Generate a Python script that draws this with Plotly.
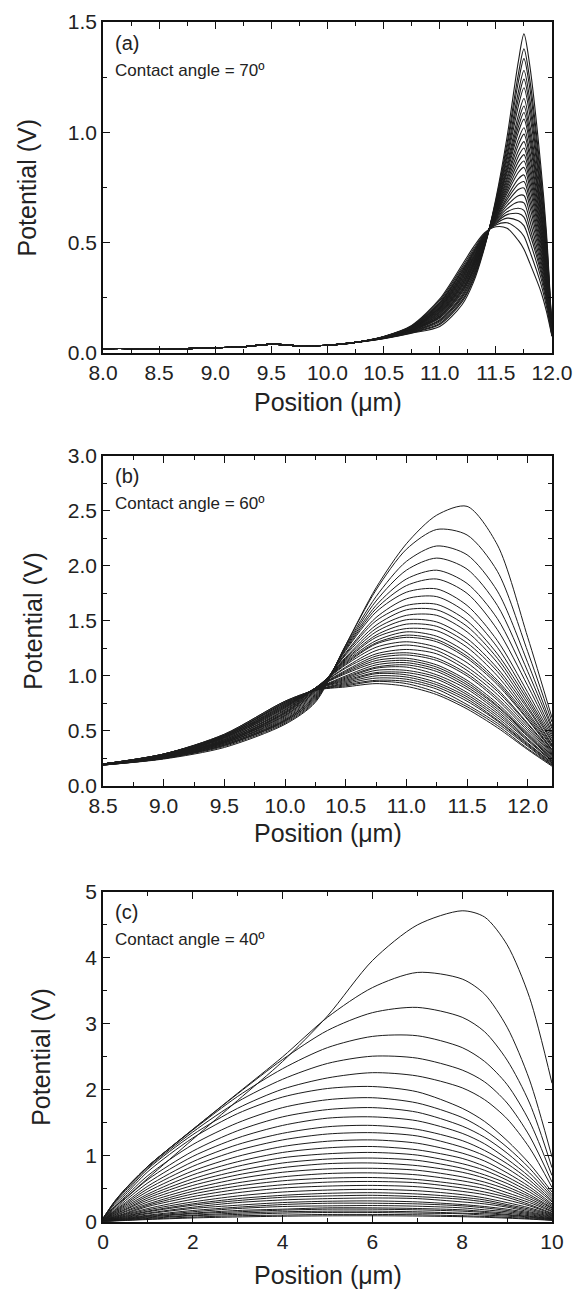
import plotly.graph_objects as go

# ---------------------------------------------------------------------------
# (a) contact angle 70 deg : potential profiles, one row per time step
# ---------------------------------------------------------------------------
pos_a_flat = [8.0, 8.25, 8.5, 8.75, 9.0, 9.25, 9.5, 9.75, 10.0, 10.25]
pot_a_flat = [0.02, 0.02, 0.017, 0.02, 0.024, 0.028, 0.04, 0.032, 0.035, 0.048]
pos_a = [10.5, 10.75, 11.0, 11.2, 11.3, 11.4, 11.5, 11.6, 11.7, 11.75, 11.8, 11.9, 11.95, 12.0]
pot_a = [
    [0.065, 0.09, 0.12, 0.22, 0.32, 0.48, 0.70, 0.98, 1.32, 1.446, 1.31, 0.85, 0.55, 0.10],
    [0.066, 0.092, 0.129, 0.233, 0.331, 0.485, 0.691, 0.951, 1.263, 1.378, 1.247, 0.81, 0.525, 0.098],
    [0.066, 0.094, 0.134, 0.241, 0.338, 0.487, 0.685, 0.932, 1.227, 1.334, 1.207, 0.784, 0.509, 0.097],
    [0.067, 0.096, 0.141, 0.251, 0.347, 0.491, 0.678, 0.909, 1.182, 1.28, 1.157, 0.753, 0.489, 0.096],
    [0.067, 0.097, 0.146, 0.258, 0.354, 0.494, 0.673, 0.893, 1.15, 1.241, 1.121, 0.73, 0.474, 0.095],
    [0.068, 0.099, 0.151, 0.265, 0.36, 0.496, 0.668, 0.876, 1.118, 1.202, 1.085, 0.708, 0.46, 0.094],
    [0.068, 0.101, 0.158, 0.274, 0.368, 0.50, 0.662, 0.856, 1.077, 1.153, 1.04, 0.679, 0.442, 0.093],
    [0.068, 0.102, 0.162, 0.28, 0.374, 0.502, 0.657, 0.841, 1.049, 1.119, 1.009, 0.659, 0.429, 0.092],
    [0.069, 0.103, 0.166, 0.286, 0.378, 0.504, 0.653, 0.829, 1.024, 1.09, 0.982, 0.642, 0.419, 0.091],
    [0.069, 0.104, 0.169, 0.291, 0.383, 0.506, 0.649, 0.816, 1.0, 1.06, 0.955, 0.625, 0.408, 0.09],
    [0.069, 0.105, 0.174, 0.298, 0.39, 0.508, 0.644, 0.799, 0.968, 1.021, 0.919, 0.602, 0.393, 0.089],
    [0.07, 0.106, 0.178, 0.304, 0.394, 0.51, 0.64, 0.787, 0.943, 0.992, 0.892, 0.585, 0.383, 0.088],
    [0.07, 0.108, 0.183, 0.31, 0.40, 0.513, 0.636, 0.773, 0.915, 0.958, 0.86, 0.565, 0.37, 0.088],
    [0.07, 0.109, 0.186, 0.315, 0.405, 0.514, 0.632, 0.76, 0.891, 0.929, 0.833, 0.548, 0.359, 0.087],
    [0.071, 0.11, 0.19, 0.321, 0.41, 0.516, 0.628, 0.748, 0.866, 0.899, 0.806, 0.531, 0.348, 0.086],
    [0.071, 0.111, 0.194, 0.326, 0.414, 0.518, 0.624, 0.735, 0.842, 0.87, 0.779, 0.514, 0.338, 0.085],
    [0.071, 0.112, 0.198, 0.332, 0.419, 0.52, 0.621, 0.723, 0.818, 0.841, 0.752, 0.497, 0.327, 0.085],
    [0.072, 0.113, 0.202, 0.338, 0.425, 0.523, 0.616, 0.708, 0.789, 0.807, 0.721, 0.477, 0.314, 0.084],
    [0.072, 0.114, 0.206, 0.343, 0.43, 0.525, 0.612, 0.696, 0.765, 0.777, 0.694, 0.46, 0.303, 0.083],
    [0.072, 0.115, 0.209, 0.349, 0.434, 0.526, 0.608, 0.683, 0.741, 0.748, 0.667, 0.442, 0.293, 0.082],
    [0.073, 0.116, 0.214, 0.355, 0.44, 0.529, 0.604, 0.669, 0.713, 0.714, 0.635, 0.423, 0.28, 0.081],
    [0.073, 0.118, 0.218, 0.361, 0.446, 0.531, 0.60, 0.654, 0.684, 0.68, 0.604, 0.403, 0.267, 0.08],
    [0.073, 0.119, 0.223, 0.368, 0.451, 0.533, 0.595, 0.64, 0.656, 0.646, 0.572, 0.383, 0.255, 0.08],
    [0.074, 0.12, 0.226, 0.373, 0.456, 0.535, 0.591, 0.627, 0.632, 0.616, 0.545, 0.366, 0.244, 0.079],
    [0.074, 0.121, 0.231, 0.38, 0.462, 0.538, 0.586, 0.611, 0.599, 0.577, 0.509, 0.343, 0.23, 0.078],
    [0.074, 0.123, 0.238, 0.389, 0.47, 0.541, 0.58, 0.59, 0.559, 0.529, 0.464, 0.314, 0.212, 0.077],
    [0.075, 0.125, 0.245, 0.40, 0.48, 0.545, 0.572, 0.565, 0.51, 0.47, 0.41, 0.28, 0.19, 0.075],
]

# ---------------------------------------------------------------------------
# (b) contact angle 60 deg
# ---------------------------------------------------------------------------
pos_b = [8.5, 9.0, 9.5, 10.0, 10.25, 10.5, 10.75, 11.0, 11.25, 11.5, 11.75, 12.0, 12.2]
pot_b = [
    [0.19, 0.245, 0.35, 0.56, 0.76, 1.28, 1.80, 2.20, 2.46, 2.54, 2.19, 1.35, 0.62],
    [0.19, 0.25, 0.36, 0.57, 0.77, 1.28, 1.78, 2.15, 2.33, 2.28, 1.95, 1.22, 0.58],
    [0.19, 0.25, 0.37, 0.58, 0.78, 1.27, 1.72, 2.04, 2.18, 2.10, 1.77, 1.12, 0.54],
    [0.19, 0.25, 0.37, 0.59, 0.79, 1.26, 1.68, 1.96, 2.07, 1.97, 1.64, 1.04, 0.52],
    [0.19, 0.26, 0.37, 0.59, 0.80, 1.25, 1.64, 1.88, 1.96, 1.84, 1.52, 0.97, 0.49],
    [0.19, 0.26, 0.38, 0.60, 0.81, 1.24, 1.61, 1.82, 1.88, 1.75, 1.42, 0.91, 0.47],
    [0.195, 0.26, 0.38, 0.60, 0.82, 1.23, 1.58, 1.76, 1.79, 1.64, 1.32, 0.85, 0.45],
    [0.20, 0.26, 0.39, 0.61, 0.83, 1.21, 1.53, 1.70, 1.72, 1.57, 1.26, 0.81, 0.43],
    [0.20, 0.26, 0.39, 0.62, 0.84, 1.20, 1.50, 1.64, 1.65, 1.50, 1.20, 0.78, 0.41],
    [0.20, 0.26, 0.39, 0.63, 0.85, 1.19, 1.46, 1.60, 1.60, 1.45, 1.16, 0.75, 0.40],
    [0.20, 0.27, 0.40, 0.64, 0.86, 1.17, 1.43, 1.55, 1.55, 1.40, 1.12, 0.72, 0.38],
    [0.20, 0.27, 0.40, 0.64, 0.86, 1.16, 1.40, 1.51, 1.49, 1.34, 1.07, 0.70, 0.37],
    [0.20, 0.27, 0.40, 0.65, 0.87, 1.15, 1.37, 1.47, 1.45, 1.30, 1.04, 0.67, 0.36],
    [0.20, 0.27, 0.40, 0.66, 0.87, 1.14, 1.35, 1.43, 1.41, 1.26, 1.00, 0.65, 0.35],
    [0.20, 0.27, 0.41, 0.66, 0.88, 1.13, 1.32, 1.40, 1.36, 1.21, 0.96, 0.63, 0.33],
    [0.20, 0.27, 0.41, 0.67, 0.88, 1.12, 1.30, 1.37, 1.33, 1.18, 0.94, 0.61, 0.33],
    [0.20, 0.27, 0.41, 0.67, 0.89, 1.11, 1.29, 1.35, 1.31, 1.16, 0.92, 0.60, 0.32],
    [0.20, 0.27, 0.42, 0.68, 0.89, 1.10, 1.26, 1.31, 1.26, 1.12, 0.88, 0.57, 0.31],
    [0.20, 0.27, 0.42, 0.69, 0.89, 1.08, 1.23, 1.28, 1.23, 1.08, 0.86, 0.56, 0.30],
    [0.20, 0.28, 0.42, 0.69, 0.89, 1.07, 1.20, 1.24, 1.20, 1.05, 0.83, 0.54, 0.29],
    [0.20, 0.28, 0.43, 0.70, 0.89, 1.05, 1.18, 1.21, 1.16, 1.02, 0.80, 0.52, 0.28],
    [0.20, 0.28, 0.43, 0.71, 0.89, 1.04, 1.16, 1.19, 1.14, 1.00, 0.78, 0.50, 0.27],
    [0.20, 0.28, 0.44, 0.71, 0.89, 1.03, 1.14, 1.16, 1.10, 0.96, 0.75, 0.48, 0.26],
    [0.20, 0.28, 0.44, 0.72, 0.89, 1.02, 1.12, 1.14, 1.08, 0.94, 0.73, 0.47, 0.25],
    [0.20, 0.28, 0.44, 0.72, 0.88, 1.00, 1.10, 1.12, 1.06, 0.92, 0.72, 0.46, 0.25],
    [0.20, 0.28, 0.44, 0.73, 0.88, 0.99, 1.08, 1.10, 1.04, 0.90, 0.70, 0.45, 0.24],
    [0.20, 0.28, 0.45, 0.73, 0.88, 0.98, 1.07, 1.08, 1.01, 0.88, 0.68, 0.43, 0.23],
    [0.20, 0.28, 0.45, 0.74, 0.88, 0.97, 1.05, 1.05, 0.99, 0.85, 0.66, 0.42, 0.23],
    [0.20, 0.28, 0.45, 0.74, 0.88, 0.96, 1.03, 1.03, 0.97, 0.83, 0.64, 0.41, 0.22],
    [0.20, 0.29, 0.46, 0.75, 0.88, 0.95, 1.02, 1.01, 0.94, 0.81, 0.62, 0.39, 0.21],
    [0.20, 0.29, 0.46, 0.75, 0.87, 0.94, 1.00, 0.99, 0.92, 0.79, 0.60, 0.38, 0.21],
    [0.20, 0.29, 0.46, 0.76, 0.87, 0.93, 0.98, 0.97, 0.90, 0.77, 0.59, 0.37, 0.20],
    [0.20, 0.29, 0.46, 0.76, 0.87, 0.92, 0.96, 0.95, 0.88, 0.74, 0.57, 0.36, 0.19],
    [0.20, 0.29, 0.47, 0.77, 0.87, 0.91, 0.95, 0.93, 0.85, 0.72, 0.55, 0.34, 0.19],
    [0.20, 0.29, 0.47, 0.77, 0.87, 0.90, 0.93, 0.905, 0.83, 0.70, 0.53, 0.33, 0.18],
]

# ---------------------------------------------------------------------------
# (c) contact angle 40 deg
# ---------------------------------------------------------------------------
pos_c = [0, 0.25, 0.5, 1, 2, 3, 4, 5, 6, 7, 8, 8.5, 9, 9.5, 10]
pot_c = [
    [0.05, 0.22, 0.36, 0.66, 1.25, 1.84, 2.43, 3.12, 3.96, 4.50, 4.715, 4.62, 4.20, 3.40, 2.10],
    [0.05, 0.30, 0.50, 0.84, 1.40, 1.95, 2.50, 3.10, 3.55, 3.78, 3.68, 3.45, 2.95, 2.15, 0.98],
    [0.05, 0.30, 0.50, 0.84, 1.40, 1.94, 2.46, 2.90, 3.17, 3.25, 3.10, 2.88, 2.45, 1.80, 0.82],
    [0.05, 0.29, 0.49, 0.84, 1.39, 1.90, 2.32, 2.64, 2.81, 2.82, 2.64, 2.43, 2.08, 1.52, 0.70],
    [0.05, 0.28, 0.47, 0.82, 1.36, 1.82, 2.16, 2.40, 2.51, 2.48, 2.30, 2.12, 1.80, 1.30, 0.60],
    [0.04, 0.26, 0.44, 0.80, 1.32, 1.72, 2.01, 2.18, 2.26, 2.21, 2.03, 1.85, 1.56, 1.12, 0.52],
    [0.04, 0.23, 0.41, 0.76, 1.27, 1.64, 1.89, 2.02, 2.05, 1.97, 1.72, 1.52, 1.23, 0.88, 0.45],
    [0.04, 0.21, 0.38, 0.70, 1.17, 1.50, 1.73, 1.85, 1.88, 1.80, 1.58, 1.39, 1.13, 0.81, 0.41],
    [0.035, 0.19, 0.35, 0.64, 1.07, 1.38, 1.59, 1.70, 1.73, 1.66, 1.45, 1.28, 1.04, 0.74, 0.38],
    [0.03, 0.17, 0.32, 0.59, 0.99, 1.27, 1.46, 1.57, 1.59, 1.53, 1.34, 1.18, 0.95, 0.68, 0.35],
    [0.03, 0.16, 0.29, 0.54, 0.91, 1.17, 1.34, 1.44, 1.46, 1.40, 1.23, 1.08, 0.88, 0.63, 0.32],
    [0.03, 0.15, 0.27, 0.50, 0.84, 1.08, 1.24, 1.33, 1.35, 1.30, 1.13, 1.00, 0.81, 0.58, 0.30],
    [0.025, 0.14, 0.25, 0.46, 0.77, 0.99, 1.14, 1.22, 1.24, 1.19, 1.04, 0.92, 0.74, 0.53, 0.27],
    [0.02, 0.13, 0.23, 0.42, 0.71, 0.91, 1.05, 1.12, 1.14, 1.09, 0.96, 0.84, 0.68, 0.49, 0.25],
    [0.02, 0.12, 0.21, 0.39, 0.65, 0.84, 0.97, 1.03, 1.05, 1.01, 0.88, 0.78, 0.63, 0.45, 0.23],
    [0.02, 0.11, 0.19, 0.36, 0.60, 0.77, 0.89, 0.95, 0.965, 0.93, 0.81, 0.71, 0.58, 0.41, 0.21],
    [0.02, 0.10, 0.18, 0.33, 0.55, 0.71, 0.82, 0.88, 0.89, 0.85, 0.75, 0.66, 0.53, 0.38, 0.20],
    [0.016, 0.09, 0.16, 0.30, 0.50, 0.65, 0.75, 0.80, 0.81, 0.78, 0.68, 0.60, 0.49, 0.35, 0.18],
    [0.015, 0.08, 0.15, 0.27, 0.46, 0.59, 0.68, 0.73, 0.74, 0.71, 0.62, 0.55, 0.44, 0.32, 0.16],
    [0.013, 0.07, 0.13, 0.25, 0.42, 0.54, 0.62, 0.66, 0.67, 0.64, 0.56, 0.50, 0.40, 0.29, 0.15],
    [0.012, 0.07, 0.12, 0.23, 0.38, 0.49, 0.56, 0.60, 0.61, 0.59, 0.51, 0.45, 0.37, 0.26, 0.13],
    [0.011, 0.06, 0.11, 0.20, 0.34, 0.44, 0.51, 0.54, 0.55, 0.53, 0.46, 0.41, 0.33, 0.24, 0.12],
    [0.01, 0.054, 0.10, 0.18, 0.30, 0.39, 0.45, 0.48, 0.49, 0.47, 0.41, 0.36, 0.29, 0.21, 0.11],
    [0.009, 0.048, 0.088, 0.16, 0.27, 0.35, 0.40, 0.43, 0.44, 0.42, 0.37, 0.33, 0.26, 0.19, 0.10],
    [0.008, 0.044, 0.08, 0.15, 0.25, 0.32, 0.37, 0.39, 0.40, 0.38, 0.34, 0.30, 0.24, 0.17, 0.09],
    [0.007, 0.04, 0.072, 0.13, 0.22, 0.29, 0.33, 0.35, 0.36, 0.35, 0.30, 0.27, 0.22, 0.15, 0.08],
    [0.006, 0.035, 0.063, 0.12, 0.20, 0.25, 0.29, 0.31, 0.315, 0.30, 0.26, 0.23, 0.19, 0.135, 0.07],
    [0.006, 0.031, 0.056, 0.10, 0.17, 0.22, 0.26, 0.28, 0.28, 0.27, 0.24, 0.21, 0.17, 0.12, 0.06],
    [0.005, 0.027, 0.049, 0.09, 0.15, 0.20, 0.23, 0.24, 0.245, 0.235, 0.21, 0.18, 0.15, 0.105, 0.054],
    [0.004, 0.023, 0.042, 0.08, 0.13, 0.17, 0.19, 0.21, 0.21, 0.20, 0.18, 0.155, 0.13, 0.09, 0.046],
    [0.004, 0.021, 0.038, 0.07, 0.12, 0.15, 0.175, 0.19, 0.19, 0.18, 0.16, 0.14, 0.11, 0.08, 0.042],
    [0.003, 0.018, 0.032, 0.06, 0.10, 0.13, 0.15, 0.16, 0.16, 0.15, 0.13, 0.12, 0.10, 0.07, 0.035],
    [0.003, 0.015, 0.028, 0.05, 0.09, 0.11, 0.13, 0.14, 0.14, 0.13, 0.12, 0.10, 0.084, 0.06, 0.03],
    [0.002, 0.012, 0.022, 0.04, 0.07, 0.09, 0.10, 0.11, 0.11, 0.105, 0.09, 0.08, 0.066, 0.047, 0.024],
    [0.002, 0.01, 0.018, 0.033, 0.057, 0.072, 0.083, 0.089, 0.09, 0.086, 0.076, 0.067, 0.054, 0.039, 0.02],
]

panel_labels = ["(a)", "(b)", "(c)"]
angle_labels = ["Contact angle = 70º", "Contact angle = 60º", "Contact angle = 40º"]
x_title = "Position (μm)"
y_title = "Potential (V)"

# ---------------------------------------------------------------------------
W, H = 576, 1290
FONT = "Liberation Sans, Arial, Helvetica, sans-serif"
LINE = "#1c1c1c"


def fx(px):
    return px / W


def fy(py):
    return 1 - py / H


fig = go.Figure()

for row in pot_a:
    fig.add_trace(go.Scatter(x=pos_a_flat + pos_a, y=pot_a_flat + row, mode="lines",
                             line=dict(color=LINE, width=1.1, shape="spline", smoothing=0.8),
                             xaxis="x", yaxis="y", showlegend=False, hoverinfo="skip"))
for row in pot_b:
    fig.add_trace(go.Scatter(x=pos_b, y=row, mode="lines",
                             line=dict(color=LINE, width=1, shape="spline", smoothing=0.8),
                             xaxis="x2", yaxis="y2", showlegend=False, hoverinfo="skip"))
for row in pot_c:
    fig.add_trace(go.Scatter(x=pos_c, y=row, mode="lines",
                             line=dict(color=LINE, width=1, shape="spline", smoothing=0.8),
                             xaxis="x3", yaxis="y3", showlegend=False, hoverinfo="skip"))

x_dom = [fx(103), fx(552)]
# pixel top / bottom of the three plot boxes
boxes = [(22, 353), (455.7, 786), (892, 1221.7)]


def axis_style(rng, dtick, minor_dtick, fmt, dom, anchor):
    return dict(
        range=rng, domain=dom, anchor=anchor, dtick=dtick, tick0=rng[0],
        tickformat=fmt, showgrid=False, zeroline=False, automargin=False,
        showline=True, linecolor="#111", linewidth=1.6, mirror="allticks",
        ticks="inside", ticklen=7, tickwidth=1.3, tickcolor="#111",
        minor=dict(dtick=minor_dtick, ticks="inside", ticklen=4, tickwidth=1.1, tickcolor="#111", showgrid=False),
        tickfont=dict(family=FONT, size=21, color="#222"),
    )


x_specs = [([8.0, 12.0], 0.5, 0.25, ".1f"), ([8.5, 12.2], 0.5, 0.25, ".1f"), ([0, 10], 2, 1, "d")]
y_specs = [([0, 1.5], 0.5, 0.25, ".1f"), ([0, 3.0], 0.5, 0.25, ".1f"), ([0, 5], 1, 0.5, "d")]

layout_axes = {}
for i in range(3):
    top, bot = boxes[i]
    y_dom = [fy(bot), fy(top)]
    xn = "xaxis" if i == 0 else f"xaxis{i + 1}"
    yn = "yaxis" if i == 0 else f"yaxis{i + 1}"
    xr, xd, xm, xf = x_specs[i]
    yr, yd, ym, yf = y_specs[i]
    layout_axes[xn] = axis_style(xr, xd, xm, xf, x_dom, "y" if i == 0 else f"y{i + 1}")
    layout_axes[yn] = axis_style(yr, yd, ym, yf, y_dom, "x" if i == 0 else f"x{i + 1}")

annotations = []
y_title_x = [26, 33, 41]
x_title_y = [402, 833, 1275]
label_y = [43, 476, 912]
angle_y = [71, 503, 939]
for i in range(3):
    top, bot = boxes[i]
    annotations.append(dict(text=y_title, x=fx(y_title_x[i]), y=fy((top + bot) / 2), xref="paper", yref="paper",
                            showarrow=False, textangle=-90, xanchor="center", yanchor="middle",
                            font=dict(family=FONT, size=25, color="#222")))
    annotations.append(dict(text=x_title, x=fx((103 + 552) / 2), y=fy(x_title_y[i]), xref="paper", yref="paper",
                            showarrow=False, xanchor="center", yanchor="middle",
                            font=dict(family=FONT, size=25, color="#222")))
    annotations.append(dict(text=panel_labels[i], x=fx(113), y=fy(label_y[i]), xref="paper", yref="paper",
                            showarrow=False, xanchor="left", yanchor="middle",
                            font=dict(family=FONT, size=20, color="#222")))
    annotations.append(dict(text=angle_labels[i], x=fx(113), y=fy(angle_y[i]), xref="paper", yref="paper",
                            showarrow=False, xanchor="left", yanchor="middle",
                            font=dict(family=FONT, size=17, color="#222")))

fig.update_layout(
    width=W, height=H, margin=dict(l=0, r=0, t=0, b=0, autoexpand=False),
    paper_bgcolor="white", plot_bgcolor="white",
    annotations=annotations, **layout_axes,
)

fig.write_html("out.html")
